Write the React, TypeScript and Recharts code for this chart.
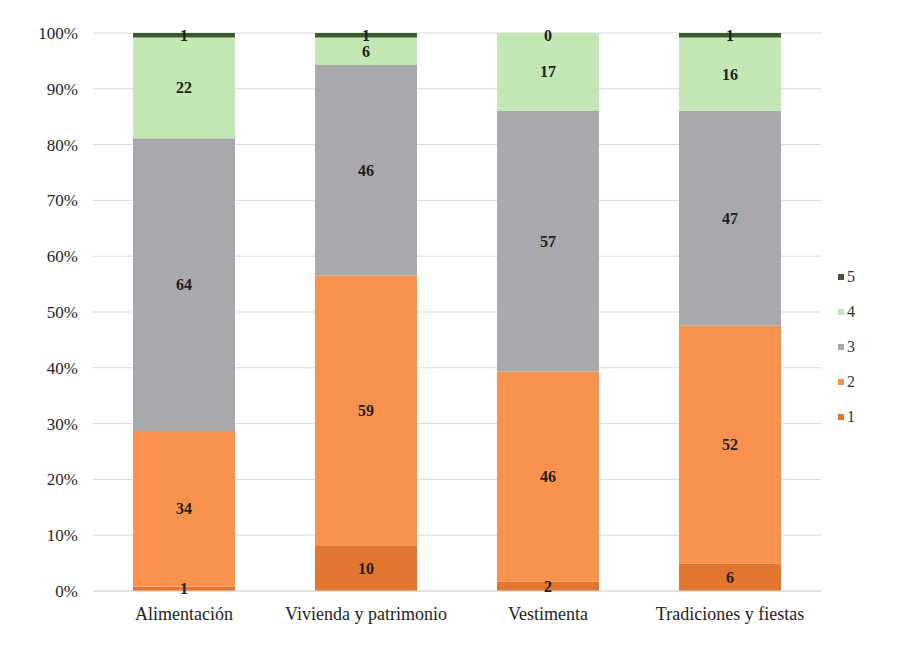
import React from "react";
import { BarChart, Bar, XAxis, YAxis, CartesianGrid, LabelList } from "recharts";

const categories = ["Alimentación", "Vivienda y patrimonio", "Vestimenta", "Tradiciones y fiestas"];
const serie1 = [1, 10, 2, 6];
const serie2 = [34, 59, 46, 52];
const serie3 = [64, 46, 57, 47];
const serie4 = [22, 6, 17, 16];
const serie5 = [1, 1, 0, 1];
const seriesNames = ["1", "2", "3", "4", "5"];
const yTicks = [0, 0.1, 0.2, 0.3, 0.4, 0.5, 0.6, 0.7, 0.8, 0.9, 1];

const colors = ["#e3762e", "#f9924e", "#a9a9ad", "#c3e6b5", "#3c5a2e"];
const allSeries = [serie1, serie2, serie3, serie4, serie5];

const data = categories.map((name, i) => ({
  name,
  s1: serie1[i],
  s2: serie2[i],
  s3: serie3[i],
  s4: serie4[i],
  s5: serie5[i],
}));

const font = "'Liberation Serif', 'DejaVu Serif', serif";

const labelText = (x: number, y: number, v: number, key?: string) => (
  <text
    key={key}
    x={x}
    y={y}
    dy="0.35em"
    textAnchor="middle"
    fontSize={16}
    fontWeight="bold"
    fontFamily={font}
    fill="#1e1e1e"
  >
    {v}
  </text>
);

// the label reads the category name and looks up the raw count
const makeLabel = (k: number) => (props: any) => {
  const values = allSeries[k];
  const vb = props.viewBox && props.viewBox.width !== undefined ? props.viewBox : props;
  const x = Number(vb.x);
  const y = Number(vb.y);
  const w = Number(vb.width);
  const h = Number(vb.height);
  let idx = categories.indexOf(props.value);
  if (idx < 0) idx = props.index;
  if (idx === undefined || isNaN(x)) return null;
  const main = labelText(x + w / 2, y + h / 2, values[idx], "m");
  // a zero-height top segment is not drawn by the bar, so put its label on the top edge here
  if (k === 3 && serie5[idx] === 0) {
    return (
      <g>
        {main}
        {labelText(x + w / 2, Math.min(y, y + h) + 2, serie5[idx], "z")}
      </g>
    );
  }
  return main;
};

export default function App() {
  return (
    <div style={{ position: "relative", width: 887, height: 648 }}>
      <BarChart
        width={887}
        height={648}
        data={data}
        stackOffset="expand"
        barSize={102}
        margin={{ top: 25, right: 74, bottom: 35, left: 0 }}
      >
        <CartesianGrid vertical={false} stroke="#d9d9d9" />
        <XAxis
          dataKey="name"
          tickLine={false}
          axisLine={{ stroke: "#d9d9d9" }}
          tick={{ fontSize: 18, fontFamily: font, fill: "#1e1e1e" }}
          tickMargin={10}
          interval={0}
        />
        <YAxis
          width={85}
          ticks={yTicks}
          domain={[0, 1]}
          tickFormatter={(v: number) => `${Math.round(v * 100)}%`}
          tickLine={false}
          axisLine={false}
          tickSize={0}
          tickMargin={15}
          tick={{ fontSize: 17, fontFamily: font, fill: "#1e1e1e" }}
        />
        {allSeries.map((_, k) => (
          <Bar
            key={k}
            dataKey={`s${k + 1}`}
            stackId="a"
            fill={colors[k]}
            isAnimationActive={false}
          >
            <LabelList dataKey="name" content={makeLabel(k)} />
          </Bar>
        ))}
      </BarChart>
      <div style={{ position: "absolute", left: 830, top: 251, fontFamily: font, fontSize: 16, color: "#333" }}>
        {[...seriesNames].reverse().map((n, j) => {
          const k = seriesNames.length - 1 - j;
          return (
            <div key={n} style={{ display: "flex", alignItems: "center", height: 35 }}>
              <span style={{ width: 6, height: 6, background: colors[k], display: "inline-block", marginRight: 3 }} />
              <span>{n}</span>
            </div>
          );
        })}
      </div>
    </div>
  );
}
